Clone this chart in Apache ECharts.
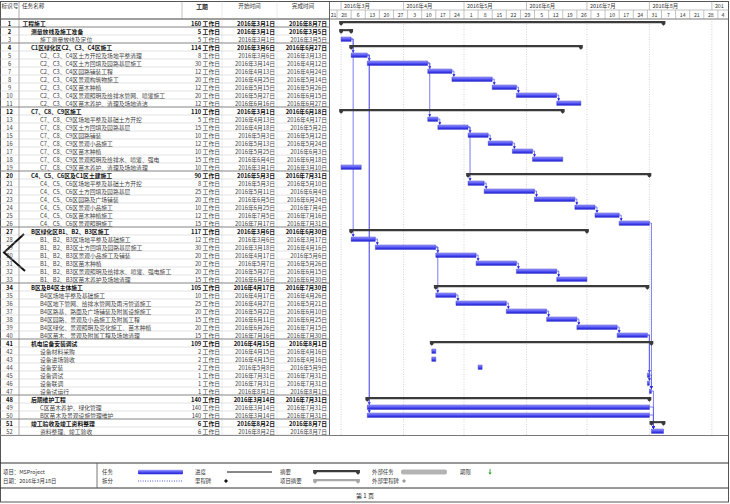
<!DOCTYPE html>
<html><head><meta charset="utf-8">
<script src="https://cdn.jsdelivr.net/npm/echarts@6/dist/echarts.min.js"></script>
<style>html,body{margin:0;padding:0;background:#fff}#c{width:730px;height:504px}</style>
</head><body><div id="c"></div>
<script>
// ---------------- data ----------------
const taskIds = [1,2,3,4,5,6,7,8,9,10,11,12,13,14,15,16,17,18,19,20,21,22,23,24,25,26,27,28,29,30,31,32,33,34,35,36,37,38,39,40,41,42,43,44,45,46,47,48,49,50,51,52];
const taskNames = [
  '工程施工','测量放线及施工准备','施工测量放线及定位',
  'C1区绿化区C2、C3、C4区施工',
  'C2、C3、C4区土方开挖及场地平整清理','C2、C3、C4区土方回填及园路基层施工','C2、C3、C4区园路铺装工程','C2、C3、C4区景观构筑物施工','C2、C3、C4区苗木种植','C2、C3、C4区景观照明及给排水管网、喷灌施工','C2、C3、C4区苗木养护、清理及场地清洁',
  'C7、C8、C9区施工',
  'C7、C8、C9区场地平整及基础土方开挖','C7、C8、C9区土方回填及园路基层','C7、C8、C9区园路铺装','C7、C8、C9区景观小品施工','C7、C8、C9区苗木种植','C7、C8、C9区景观照明及给排水、喷灌、强电','C7、C8、C9区苗木养护、清理及场地清理',
  'C4、C5、C6区及C1区土建施工',
  'C4、C5、C6区场地平整及基础土方开挖','C4、C5、C6区土方回填及园路基层','C4、C5、C6区园路及广场铺装','C4、C5、C6区景观小品施工','C4、C5、C6区苗木种植施工','C4、C5、C6区景观照明施工',
  'B区绿化区B1、B2、B3区施工',
  'B1、B2、B3区场地平整及基础施工','B1、B2、B3区土方回填及园路基层施工','B1、B2、B3区景观小品施工及铺装','B1、B2、B3区苗木种植','B1、B2、B3区景观照明及给排水、喷灌、强电施工','B1、B2、B3区苗木养护及场地清理',
  'B区及B4区主体施工',
  'B4区场地平整及基础施工','B4区地下管网、给排水管网及雨污管道施工','B4区路基、路面及广场铺装及附属设施施工','B4区园路、景观及小品施工及附属工程','B4区绿化、景观照明及亮化施工、苗木种植','B4区苗木、景观及附属工程及场地清理',
  '机电设备安装调试',
  '设备材料采购','设备进场验收','设备安装','设备调试','设备联调','设备试运行',
  '后期维护工程','C区苗木养护、绿化管理','B区苗木及景观设施管理维护',
  '竣工验收及竣工资料整理','资料整理、竣工验收'
];
const taskLevels = [0,1,2,1,2,2,2,2,2,2,2,1,2,2,2,2,2,2,2,1,2,2,2,2,2,2,1,2,2,2,2,2,2,1,2,2,2,2,2,2,1,2,2,2,2,2,2,1,2,2,1,2];
const taskDurations = [160,5,5,114,8,30,12,20,12,20,12,110,5,15,10,12,10,15,10,90,8,25,20,10,12,15,117,12,30,20,20,20,15,105,10,25,20,15,20,15,109,2,2,2,1,1,1,140,140,140,6,6];
const taskStarts = [
  '2016-03-01','2016-03-01','2016-03-01','2016-03-06','2016-03-06','2016-03-14','2016-04-13','2016-04-25','2016-05-15','2016-05-27','2016-06-16',
  '2016-03-01','2016-04-13','2016-04-18','2016-05-03','2016-05-13','2016-05-25','2016-06-04','2016-03-01',
  '2016-05-03','2016-05-03','2016-05-11','2016-06-05','2016-06-25','2016-07-05','2016-07-17',
  '2016-03-06','2016-03-06','2016-03-18','2016-04-17','2016-05-07','2016-05-27','2016-06-16',
  '2016-04-17','2016-04-17','2016-04-27','2016-05-22','2016-06-11','2016-06-26','2016-07-16',
  '2016-04-15','2016-04-15','2016-04-15','2016-05-08','2016-07-31','2016-07-31','2016-08-01',
  '2016-03-14','2016-03-14','2016-03-14','2016-08-02','2016-08-02'
];
// predecessor id -> successor id
const linkPred = [3,3,5,6,7,8,9,10,5,5,6,13,14,15,16,17,14,21,22,23,24,25,28,29,30,31,32,29,35,36,37,38,39,40,40,26,45,47,49,50];
const linkSucc = [5,28,6,7,8,9,10,11,49,50,13,14,15,16,17,18,21,22,23,24,25,26,29,30,31,32,33,35,36,37,38,39,40,45,46,47,47,52,52,52];

const monthStarts = ['2016-03-01','2016-04-01','2016-05-01','2016-06-01','2016-07-01','2016-08-01','2016-09-01'];
const monthLabels = ['2016年3月','2016年4月','2016年5月','2016年6月','2016年7月','2016年8月','2016年9月'];
const weekStarts = ['2016-02-21','2016-02-28','2016-03-06','2016-03-13','2016-03-20','2016-03-27','2016-04-03','2016-04-10','2016-04-17','2016-04-24','2016-05-01','2016-05-08','2016-05-15','2016-05-22','2016-05-29','2016-06-05','2016-06-12','2016-06-19','2016-06-26','2016-07-03','2016-07-10','2016-07-17','2016-07-24','2016-07-31','2016-08-07','2016-08-14','2016-08-21','2016-08-28','2016-09-04'];
const weekLabels = ['21','28','6','13','20','27','3','10','17','24','1','8','15','22','29','5','12','19','26','3','10','17','24','31','7','14','21','28','4'];

const headerCols = ['标识号','任务名称','工期','开始时间','完成时间'];
const legendItems = ['任务','拆分','进度','里程碑','摘要','项目摘要','外部任务','外部里程碑','期限'];
const footerInfo = ['项目：MSProject','日期：2016年3月18日'];
const pageLabel = '第 1 页';

// ---------------- helpers ----------------
const FONT = '"Noto Sans CJK SC","Noto Sans",sans-serif';
const DAY0 = Date.UTC(2016, 2, 1);
function dayOf(s){ const p = s.split('-').map(Number); return (Date.UTC(p[0], p[1]-1, p[2]) - DAY0) / 86400000; }
function fmtDate(d){ const t = new Date(DAY0 + d*86400000); return t.getUTCFullYear()+'年'+(t.getUTCMonth()+1)+'月'+t.getUTCDate()+'日'; }
function txt(text, x, y, size, opts){
  opts = opts || {};
  const align = opts.align || 'left';
  const st = {text:text, fill:opts.fill||'#222',
    font:(opts.bold?'bold ':'')+size+'px '+FONT, align:align, verticalAlign:'middle', textAlign:align, textVerticalAlign:'middle'};
  if (opts.width){ st.width = opts.width; st.overflow = 'truncate'; st.ellipsis = ''; }
  return {type:'text', x:x, y:y, silent:true, style:st};
}
function ln(x1,y1,x2,y2,stroke,w,dash){
  return {type:'line', silent:true, shape:{x1:x1,y1:y1,x2:x2,y2:y2}, style:{stroke:stroke, lineWidth:w||0.6, lineDash:dash||null}};
}

// layout
const TOP = 19, ROWH = 8, NROW = taskIds.length, BOT = TOP + ROWH*NROW;
const GL = 330, GR = 728;
const COL = {idSep:19, nameSep:182, durSep:222, startSep:277, end:329.5};
const indent = [22.5, 31, 40];

const chart = echarts.init(document.getElementById('c'), null, {renderer:'svg', width:730, height:504});

const barGrad = new echarts.graphic.LinearGradient(0,0,0,1,[
  {offset:0,color:'#a4a4ff'},{offset:0.45,color:'#5858f3'},{offset:1,color:'#2020d2'}]);

function capPts(x, yc){ return [[x-1.9,yc-1.9],[x+1.9,yc-1.9],[x+1.9,yc+0.9],[x,yc+2.8],[x-1.9,yc+0.9]]; }

// data for series
const barData = taskIds.map((id,i)=>{ const s = dayOf(taskStarts[i]); return [s, i, s + taskDurations[i]]; });
const linkData = linkPred.map((p,k)=>{
  const pi = p-1, si = linkSucc[k]-1;
  return [dayOf(taskStarts[pi]) + taskDurations[pi], pi, dayOf(taskStarts[si]), si];
});
const monthData = monthStarts.map((m,k)=>[dayOf(m), 0, k]);
const weekData = weekStarts.map((w,k)=>[dayOf(w), 0, k]);
const rowData = taskIds.map((id,i)=>[0, i]);

function renderRow(params, api){
  const i = api.value(1);
  const yc = api.coord([0, i])[1];
  const h = api.size([0,1])[1];
  const sum = taskLevels[i] < 2;
  const fill = sum ? '#111' : '#454545';
  const s = dayOf(taskStarts[i]), e = s + taskDurations[i] - 1;
  const ch = [ ln(0, yc+h/2, COL.end, yc+h/2, '#c4c4c4', 0.5) ];
  if (sum) ch.push(ln(0, yc-h/2, COL.end, yc-h/2, '#6a6a6a', 0.7));
  ch.push(txt(String(taskIds[i]), 9.5, yc, 5.8, {align:'center', fill:fill, bold:sum}));
  ch.push(txt(taskNames[i], indent[taskLevels[i]], yc, 5.8, {fill:fill, bold:sum}));
  ch.push(txt(taskDurations[i]+' 工作日', 220, yc, 5.8, {align:'right', fill:fill, bold:sum}));
  ch.push(txt(fmtDate(s), 275, yc, 5.8, {align:'right', fill:fill, bold:sum}));
  ch.push(txt(fmtDate(e), 327, yc, 5.8, {align:'right', fill:fill, bold:sum}));
  return {type:'group', children:ch};
}

function renderBar(params, api){
  const i = api.value(1);
  const p0 = api.coord([api.value(0), i]), p1 = api.coord([api.value(2), i]);
  const yc = p0[1], x0 = p0[0], x1 = p1[0];
  if (taskLevels[i] < 2){
    const c = '#3a3a3a';
    return {type:'group', children:[
      {type:'rect', shape:{x:x0, y:yc-1.9, width:x1-x0, height:2.1}, style:{fill:c}},
      {type:'polygon', shape:{points:capPts(x0, yc)}, style:{fill:c}},
      {type:'polygon', shape:{points:capPts(x1, yc)}, style:{fill:c}}
    ]};
  }
  return {type:'rect', shape:{x:x0, y:yc-2.0, width:Math.max(x1-x0, 1.5), height:4.4},
    style:{fill:barGrad, stroke:'#2a2acc', lineWidth:0.4}};
}

function renderLink(params, api){
  const a = api.coord([api.value(0), api.value(1)]);
  const b = api.coord([api.value(2), api.value(3)]);
  const xv = Math.max(a[0], b[0]) + 2;
  const yTop = b[1] - 2.1;
  return {type:'group', children:[
    {type:'polyline', shape:{points:[[a[0], a[1]],[xv, a[1]],[xv, yTop-2]]}, style:{stroke:'#5a5af2', lineWidth:0.8, fill:null}},
    {type:'polygon', shape:{points:[[xv-1.5, yTop-2.6],[xv+1.5, yTop-2.6],[xv, yTop]]}, style:{fill:'#1a1ad4'}}
  ]};
}

function renderGridline(params, api){
  const x = api.coord([api.value(0), 0])[0];
  return ln(x, TOP, x, BOT, '#b5b5b5', 0.6, [1, 1.5]);
}

function renderMonth(params, api){
  const x = api.coord([api.value(0), 0])[0];
  const k = api.value(2);
  const room = Math.max(4, GR - 1 - (x + 3));
  return {type:'group', children:[
    ln(x, 1.5, x, 10, '#9a9a9a', 0.6),
    txt(monthLabels[k], x+3, 6, 5.4, {fill:'#333', width:Math.min(room, 60)})
  ]};
}

function renderWeek(params, api){
  const k = api.value(2);
  const d = api.value(0);
  const x0 = api.coord([d, 0])[0];
  const x1 = api.coord([d+7, 0])[0];
  const ch = [];
  if (x0 >= GL) ch.push(ln(x0, 10, x0, TOP, '#9a9a9a', 0.6));
  const a = Math.max(x0, GL), b = Math.min(x1, GR);
  ch.push(txt(weekLabels[k], (a+b)/2, 14.6, 5.2, {align:'center', fill:'#333'}));
  return {type:'group', children:ch};
}

// ---------------- static graphics ----------------
const g = [];
// frame
g.push(ln(0.5, 1.5, 0.5, 502, '#555', 1));
g.push(ln(728.5, 1.5, 728.5, 502, '#555', 1));
g.push(ln(0, 1.5, 729, 1.5, '#555', 1));
g.push(ln(0, 502, 729, 502, '#555', 1));
// header
g.push(ln(0, TOP, 729, TOP, '#555', 0.8));
g.push(ln(GL, 10, 729, 10, '#9a9a9a', 0.6));
g.push(ln(COL.end, 1.5, COL.end, BOT, '#555', 0.9));
g.push(ln(COL.idSep, 1.5, COL.idSep, BOT, '#888', 0.7));
g.push(ln(COL.nameSep, 1.5, COL.nameSep, TOP, '#9a9a9a', 0.6));
g.push(ln(COL.durSep, 1.5, COL.durSep, BOT, '#d4d4d4', 0.5));
g.push(ln(COL.startSep, 1.5, COL.startSep, BOT, '#d4d4d4', 0.5));
g.push(txt(headerCols[0], 1.5, 6, 5.6, {fill:'#333'}));
g.push(txt(headerCols[1], 22, 6, 5.6, {fill:'#333'}));
g.push(txt(headerCols[2], 202, 6, 5.8, {align:'center', fill:'#111', bold:true}));
g.push(txt(headerCols[3], 249.5, 6, 5.6, {align:'center', fill:'#333'}));
g.push(txt(headerCols[4], 303, 6, 5.6, {align:'center', fill:'#333'}));
// table bottom
g.push(ln(0, BOT+0.5, 729, BOT+0.5, '#555', 0.8));
// legend box
const LY1 = 472, LY2 = 481;
g.push(ln(0, 463, 729, 463, '#333', 1));
g.push(ln(0, 488, 729, 488, '#333', 1));
g.push(ln(97, 463, 97, 488, '#555', 0.8));
g.push(txt(footerInfo[0], 3, LY1, 5.4, {fill:'#333'}));
g.push(txt(footerInfo[1], 3, LY2, 5.4, {fill:'#333'}));
g.push(txt(legendItems[0], 102, LY1, 5.4, {fill:'#333'}));
g.push({type:'rect', silent:true, shape:{x:138, y:LY1-2.2, width:45, height:4.4, r:1}, style:{fill:barGrad}});
g.push(txt(legendItems[1], 102, LY2, 5.4, {fill:'#333'}));
g.push(ln(138, LY2, 183, LY2, '#3030c8', 1, [0.8, 1.6]));
g.push(txt(legendItems[2], 195, LY1, 5.4, {fill:'#333'}));
g.push(ln(227, LY1, 272, LY1, '#111', 1));
g.push(txt(legendItems[3], 195, LY2, 5.4, {fill:'#333'}));
g.push({type:'polygon', silent:true, shape:{points:[[226,LY2-2],[228,LY2],[226,LY2+2],[224,LY2]]}, style:{fill:'#111'}});
g.push(txt(legendItems[4], 280, LY1, 5.4, {fill:'#333'}));
g.push({type:'rect', silent:true, shape:{x:315, y:LY1-1.9, width:43, height:2.1}, style:{fill:'#3a3a3a'}});
g.push({type:'polygon', silent:true, shape:{points:capPts(315, LY1)}, style:{fill:'#3a3a3a'}});
g.push({type:'polygon', silent:true, shape:{points:capPts(358, LY1)}, style:{fill:'#3a3a3a'}});
g.push(txt(legendItems[5], 280, LY2, 5.4, {fill:'#333'}));
g.push({type:'rect', silent:true, shape:{x:315, y:LY2-1.9, width:43, height:2.1}, style:{fill:'#a8a8a8'}});
g.push({type:'polygon', silent:true, shape:{points:capPts(315, LY2)}, style:{fill:'#a8a8a8'}});
g.push({type:'polygon', silent:true, shape:{points:capPts(358, LY2)}, style:{fill:'#a8a8a8'}});
g.push(txt(legendItems[6], 372, LY1, 5.4, {fill:'#333'}));
g.push({type:'rect', silent:true, shape:{x:401, y:LY1-2.4, width:46, height:4.8, r:2}, style:{fill:'#b4b4b4'}});
g.push(txt(legendItems[7], 372, LY2, 5.4, {fill:'#333'}));
g.push({type:'polygon', silent:true, shape:{points:[[404,LY2-2],[406,LY2],[404,LY2+2],[402,LY2]]}, style:{fill:'#999'}});
g.push(txt(legendItems[8], 460, LY1, 5.4, {fill:'#333'}));
g.push({type:'polyline', silent:true, shape:{points:[[490,LY1-3],[490,LY1+2]]}, style:{stroke:'#2fa52f', lineWidth:0.9}});
g.push({type:'polygon', silent:true, shape:{points:[[488.3,LY1+0.5],[491.7,LY1+0.5],[490,LY1+2.8]]}, style:{fill:'#2fa52f'}});
g.push(txt(pageLabel, 365, 495, 6, {align:'center', fill:'#222'}));
// page-turn chevron overlay
g.push({type:'polyline', silent:true, shape:{points:[[24,234],[4,252.5],[25,271]]}, style:{stroke:'#111', lineWidth:2, fill:null}});

// ---------------- option ----------------
const option = {
  animation:false,
  backgroundColor:'#fff',
  grid:[
    {left:GL, top:TOP, width:GR-GL, height:BOT-TOP},
    {left:0, top:TOP, width:GL, height:BOT-TOP}
  ],
  xAxis:[
    {type:'value', gridIndex:0, min:-5.5, max:192, show:false},
    {type:'value', gridIndex:1, min:0, max:GL, show:false}
  ],
  yAxis:[
    {type:'category', gridIndex:0, data:taskIds.map(String), inverse:true, show:false},
    {type:'category', gridIndex:1, data:taskIds.map(String), inverse:true, show:false}
  ],
  series:[
    {type:'custom', name:'月份网格', xAxisIndex:0, yAxisIndex:0, data:monthData, renderItem:renderGridline, clip:false, silent:true, z:1},
    {type:'custom', name:'月', xAxisIndex:0, yAxisIndex:0, data:monthData, renderItem:renderMonth, clip:false, silent:true, z:2},
    {type:'custom', name:'周', xAxisIndex:0, yAxisIndex:0, data:weekData, renderItem:renderWeek, clip:false, silent:true, z:2},
    {type:'custom', name:'链接', xAxisIndex:0, yAxisIndex:0, data:linkData, renderItem:renderLink, clip:false, silent:true, z:3},
    {type:'custom', name:'任务', xAxisIndex:0, yAxisIndex:0, data:barData, renderItem:renderBar, encode:{x:[0,2], y:1}, clip:false, silent:true, z:4},
    {type:'custom', name:'表格', xAxisIndex:1, yAxisIndex:1, data:rowData, renderItem:renderRow, clip:false, silent:true, z:2}
  ],
  graphic:{elements:g}
};
chart.setOption(option);
</script>
</body></html>
